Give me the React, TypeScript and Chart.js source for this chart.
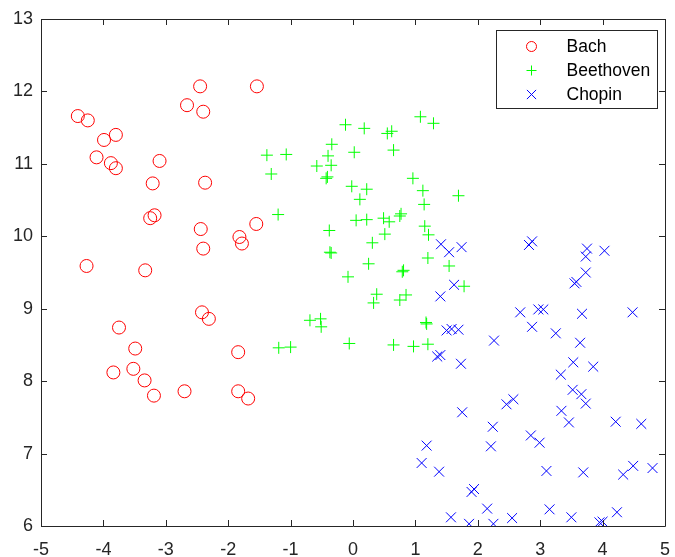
import React, { useEffect, useRef } from "react";
import { Chart, registerables } from "chart.js";

Chart.register(...registerables);

// Composer feature scatter: two-dimensional coordinates per piece
const seriesNames = ["Bach", "Beethoven", "Chopin"];

const bachX = [-4.41, -4.25, -3.99, -3.80, -4.11, -3.88, -3.80, -3.10, -3.21, -3.18, -3.25, -2.45, -2.66, -2.40, -2.37, -2.44, -2.40, -1.54, -1.55, -1.82, -1.78, -4.27, -3.33, -2.42, -2.31, -3.75, -3.49, -1.84, -3.84, -3.52, -3.34, -3.19, -2.70, -1.84, -1.68];
const bachY = [11.66, 11.60, 11.33, 11.40, 11.09, 11.01, 10.94, 11.04, 10.73, 10.29, 10.25, 12.07, 11.81, 11.72, 10.74, 10.10, 9.83, 12.07, 10.17, 9.99, 9.90, 9.59, 9.53, 8.95, 8.86, 8.74, 8.45, 8.40, 8.12, 8.17, 8.01, 7.80, 7.86, 7.86, 7.76];

const beethovenX = [1.08, 1.29, -0.12, 0.18, 0.55, 0.62, -0.34, 0.65, 0.02, -1.38, -1.07, -0.40, -0.58, -0.35, -1.31, -0.41, -0.43, 0.96, -0.02, 0.22, 1.12, 1.69, 0.11, 1.14, -1.20, 0.05, 0.22, 0.49, 0.58, 0.75, 0.77, 1.15, 1.21, -0.38, 0.31, 0.51, -0.37, -0.35, 1.20, 0.25, 1.54, 0.81, 0.79, -0.08, 1.78, 0.38, 0.33, 0.85, 0.75, -0.69, -0.52, -0.51, 1.17, 1.18, -1.19, -1.00, -0.06, 0.65, 0.97, 1.20];
const beethovenY = [11.65, 11.56, 11.54, 11.49, 11.42, 11.45, 11.27, 11.19, 11.16, 11.12, 11.13, 11.11, 10.97, 10.98, 10.86, 10.82, 10.80, 10.80, 10.69, 10.65, 10.63, 10.56, 10.51, 10.44, 10.30, 10.22, 10.23, 10.25, 10.20, 10.28, 10.31, 10.14, 10.02, 10.08, 9.91, 10.03, 9.78, 9.77, 9.70, 9.62, 9.59, 9.53, 9.51, 9.44, 9.31, 9.20, 9.08, 9.19, 9.12, 8.84, 8.86, 8.75, 8.81, 8.79, 8.46, 8.47, 8.52, 8.50, 8.48, 8.51];

const chopinX = [1.41, 1.54, 1.74, 2.87, 2.82, 3.75, 3.73, 4.03, 3.73, 3.58, 3.55, 1.62, 1.40, 2.68, 2.97, 3.05, 3.67, 4.48, 2.87, 3.25, 3.64, 1.50, 1.58, 1.69, 2.26, 1.35, 1.40, 1.73, 3.53, 3.85, 3.33, 3.52, 3.66, 3.73, 3.34, 3.46, 4.21, 4.62, 2.57, 2.46, 1.75, 2.24, 2.21, 2.85, 2.99, 1.18, 1.10, 1.38, 3.10, 3.69, 4.49, 4.80, 4.33, 1.94, 1.90, 1.57, 2.15, 1.86, 2.25, 2.55, 3.15, 3.50, 3.95, 4.00, 4.23];
const chopinY = [9.89, 9.78, 9.85, 9.93, 9.88, 9.83, 9.72, 9.80, 9.50, 9.37, 9.35, 9.33, 9.17, 8.95, 8.99, 8.99, 8.93, 8.95, 8.75, 8.66, 8.53, 8.70, 8.72, 8.71, 8.56, 8.34, 8.36, 8.24, 8.26, 8.20, 8.09, 7.88, 7.82, 7.69, 7.59, 7.43, 7.44, 7.41, 7.75, 7.68, 7.57, 7.37, 7.10, 7.25, 7.15, 7.11, 6.87, 6.75, 6.76, 6.74, 6.83, 6.80, 6.71, 6.51, 6.47, 6.12, 6.24, 6.03, 6.03, 6.11, 6.23, 6.12, 6.05, 6.06, 6.19];

const xTicks = [-5, -4, -3, -2, -1, 0, 1, 2, 3, 4, 5];
const yTicks = [6, 7, 8, 9, 10, 11, 12, 13];

const AXIS_COLOR = "#262626";
const FONT_FAMILY = "'Liberation Sans', Arial, Helvetica, sans-serif";

const toPoints = (xs: number[], ys: number[]) => xs.map((x, i) => ({ x, y: ys[i] }));

// Draws a marker in the same style the datasets use
function drawMarker(ctx: CanvasRenderingContext2D, style: string, x: number, y: number, r: number, color: string) {
  ctx.save();
  ctx.strokeStyle = color;
  ctx.lineWidth = 1;
  ctx.beginPath();
  if (style === "circle") {
    ctx.arc(x, y, r, 0, Math.PI * 2);
  } else if (style === "cross") {
    ctx.moveTo(x - r, y);
    ctx.lineTo(x + r, y);
    ctx.moveTo(x, y - r);
    ctx.lineTo(x, y + r);
  } else {
    const d = r * Math.SQRT1_2;
    ctx.moveTo(x - d, y - d);
    ctx.lineTo(x + d, y + d);
    ctx.moveTo(x - d, y + d);
    ctx.lineTo(x + d, y - d);
  }
  ctx.stroke();
  ctx.restore();
}

// Box around the plot area with inward-pointing ticks on all four sides
const boxAxesPlugin = {
  id: "boxAxes",
  afterDraw(chart: any) {
    const { ctx, chartArea: a, scales } = chart;
    const tl = 6;
    ctx.save();
    ctx.strokeStyle = AXIS_COLOR;
    ctx.lineWidth = 1;
    ctx.beginPath();
    ctx.rect(Math.round(a.left) + 0.5, Math.round(a.top) + 0.5, Math.round(a.right - a.left), Math.round(a.bottom - a.top));
    for (const v of xTicks) {
      const px = Math.round(scales.x.getPixelForValue(v)) + 0.5;
      ctx.moveTo(px, a.bottom);
      ctx.lineTo(px, a.bottom - tl);
      ctx.moveTo(px, a.top);
      ctx.lineTo(px, a.top + tl);
    }
    for (const v of yTicks) {
      const py = Math.round(scales.y.getPixelForValue(v)) + 0.5;
      ctx.moveTo(a.left, py);
      ctx.lineTo(a.left + tl, py);
      ctx.moveTo(a.right, py);
      ctx.lineTo(a.right - tl, py);
    }
    ctx.stroke();
    ctx.restore();
  },
};

// Legend box in the upper-right corner of the plot area
const insetLegendPlugin = {
  id: "insetLegend",
  afterDraw(chart: any) {
    const { ctx, chartArea: a } = chart;
    const w = 161;
    const h = 78;
    const x0 = Math.round(a.right - 8 - w) + 0.5;
    const y0 = Math.round(a.top + 11) + 0.5;
    ctx.save();
    ctx.fillStyle = "#ffffff";
    ctx.fillRect(x0, y0, w, h);
    ctx.strokeStyle = AXIS_COLOR;
    ctx.lineWidth = 1;
    ctx.strokeRect(x0, y0, w, h);
    ctx.font = `17.5px ${FONT_FAMILY}`;
    ctx.fillStyle = "#000000";
    ctx.textBaseline = "middle";
    ctx.textAlign = "left";
    const legendSizes = [5, 5, 6.5];
    chart.data.datasets.forEach((ds: any, i: number) => {
      const cy = y0 + 16 + i * 24;
      drawMarker(ctx, ds.pointStyle, x0 + 35, cy, legendSizes[i], ds.borderColor);
      ctx.fillText(ds.label, x0 + 70, cy + 1);
    });
    ctx.restore();
  },
};

export default function App() {
  const canvasRef = useRef<HTMLCanvasElement | null>(null);

  useEffect(() => {
    const canvas = canvasRef.current;
    if (!canvas) return;
    const chart = new Chart(canvas, {
      type: "scatter",
      data: {
        datasets: [
          {
            label: seriesNames[0],
            data: toPoints(bachX, bachY),
            pointStyle: "circle",
            pointRadius: 6.5,
            pointBorderWidth: 1,
            borderColor: "#ff0000",
            backgroundColor: "rgba(0,0,0,0)",
          },
          {
            label: seriesNames[1],
            data: toPoints(beethovenX, beethovenY),
            pointStyle: "cross",
            pointRadius: 6,
            pointBorderWidth: 1,
            borderColor: "#00ff00",
            backgroundColor: "#00ff00",
          },
          {
            label: seriesNames[2],
            data: toPoints(chopinX, chopinY),
            pointStyle: "crossRot",
            pointRadius: 7,
            pointBorderWidth: 1,
            borderColor: "#0000ff",
            backgroundColor: "#0000ff",
          },
        ],
      },
      options: {
        responsive: false,
        animation: false,
        events: [],
        layout: { padding: { top: 19, right: 10, left: 0, bottom: 0 } },
        plugins: {
          legend: { display: false },
          tooltip: { enabled: false },
        },
        scales: {
          x: {
            type: "linear",
            min: -5,
            max: 5,
            afterFit: (scale: any) => {
              scale.height = 31;
              scale.paddingLeft = 0;
              scale.paddingRight = 0;
            },
            afterBuildTicks: (scale: any) => {
              scale.ticks = xTicks.map((v) => ({ value: v }));
            },
            grid: { display: false, drawTicks: false },
            border: { display: false },
            ticks: {
              padding: 13,
              color: "#262626",
              font: { size: 18, family: FONT_FAMILY },
              callback: (v: any) => String(v),
            },
          },
          y: {
            type: "linear",
            min: 6,
            max: 13,
            afterFit: (scale: any) => {
              scale.width = 41;
              scale.paddingTop = 0;
              scale.paddingBottom = 0;
            },
            afterBuildTicks: (scale: any) => {
              scale.ticks = yTicks.map((v) => ({ value: v }));
            },
            grid: { display: false, drawTicks: false },
            border: { display: false },
            ticks: {
              padding: 8,
              color: "#262626",
              font: { size: 18, family: FONT_FAMILY },
              callback: (v: any) => String(v),
            },
          },
        },
      },
      plugins: [boxAxesPlugin, insetLegendPlugin],
    });
    return () => chart.destroy();
  }, []);

  return (
    <div style={{ position: "absolute", left: 0, top: 0, width: 675, height: 557, background: "#ffffff" }}>
      <canvas ref={canvasRef} width={675} height={557} style={{ display: "block" }} />
    </div>
  );
}
